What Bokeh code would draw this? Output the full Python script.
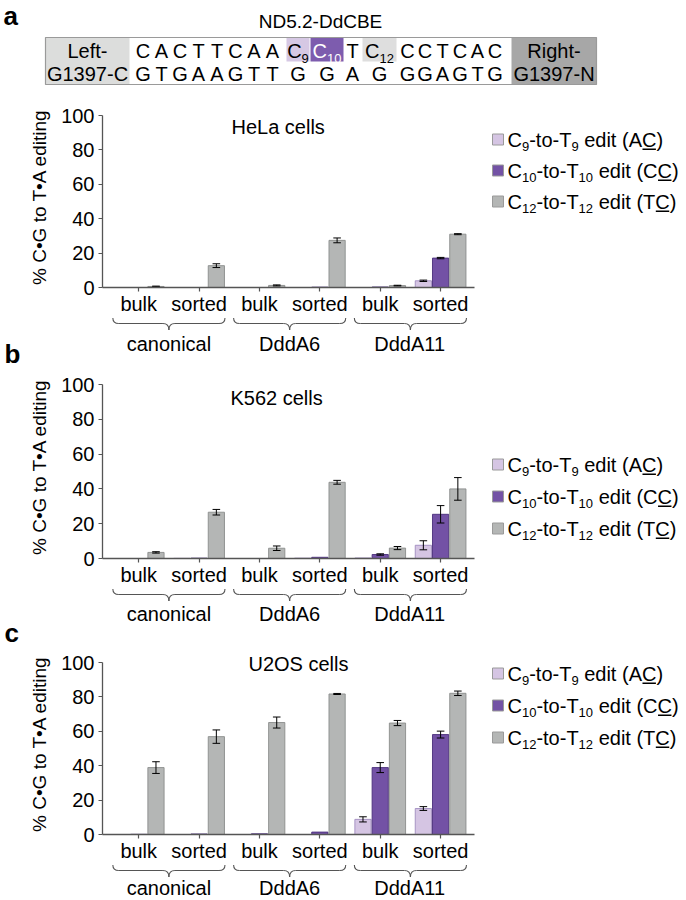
from bokeh.plotting import figure
from bokeh.layouts import column
from bokeh.models import (Range1d, LinearAxis, FixedTicker, ColumnDataSource,
                          CustomJSTickFormatter)
from bokeh.core.properties import value
from bokeh.embed import file_html
from bokeh.resources import INLINE

FONT = "Liberation Sans"

# ---------------- data ----------------
conditions = ["bulk", "sorted", "bulk", "sorted", "bulk", "sorted"]
variants = ["canonical", "DddA6", "DddA11"]
y_ticks = [0, 20, 40, 60, 80, 100]
y_title = "% C\u2022G to T\u2022A editing"

hela_c9 = [0.0, 0.0, 0.0, 0.0, 0.0, 3.9]
hela_c10 = [0.0, 0.0, 0.0, 0.2, 0.3, 17.1]
hela_c12 = [0.6, 12.7, 1.2, 27.4, 1.1, 31.0]
hela_c9_err = [0.0, 0.0, 0.0, 0.0, 0.0, 0.4]
hela_c10_err = [0.0, 0.0, 0.0, 0.0, 0.0, 0.4]
hela_c12_err = [0.2, 1.1, 0.3, 1.4, 0.2, 0.3]

k562_c9 = [0.0, 0.1, 0.0, 0.2, 0.3, 7.6]
k562_c10 = [0.0, 0.2, 0.0, 0.7, 2.3, 25.4]
k562_c12 = [3.5, 26.6, 5.9, 43.8, 6.0, 40.0]
k562_c9_err = [0.0, 0.0, 0.0, 0.0, 0.0, 2.6]
k562_c10_err = [0.0, 0.0, 0.0, 0.0, 0.4, 5.0]
k562_c12_err = [0.4, 1.6, 1.3, 1.1, 0.9, 6.5]

u2os_c9 = [0.0, 0.0, 0.0, 0.0, 8.8, 15.1]
u2os_c10 = [0.1, 0.3, 0.4, 1.4, 38.9, 58.1]
u2os_c12 = [38.9, 56.9, 65.1, 81.7, 64.8, 82.1]
u2os_c9_err = [0.0, 0.0, 0.0, 0.0, 1.5, 1.1]
u2os_c10_err = [0.0, 0.0, 0.0, 0.0, 2.9, 2.0]
u2os_c12_err = [3.4, 3.9, 3.2, 0.3, 1.5, 1.3]

legend_labels = [
    [("C", "n"), ("9", "sub"), ("-to-T", "n"), ("9", "sub"), (" edit (A", "n"), ("C", "u"), (")", "n")],
    [("C", "n"), ("10", "sub"), ("-to-T", "n"), ("10", "sub"), (" edit (C", "n"), ("C", "u"), (")", "n")],
    [("C", "n"), ("12", "sub"), ("-to-T", "n"), ("12", "sub"), (" edit (T", "n"), ("C", "u"), (")", "n")],
]

seq_top = ["C", "A", "C", "T", "T", "C", "A", "A", "C9", "C10", "T", "C12", "C", "C", "T", "C", "A", "C"]
seq_bottom = ["G", "T", "G", "A", "A", "G", "T", "T", "G", "G", "A", "G", "G", "G", "A", "G", "T", "G"]

# ---------------- styling / geometry ----------------
FILLS = ["#d5c5e3", "#7352a5", "#b4b6b5"]
LINES = ["#a08cbf", "#4a2f7a", "#8a8c8b"]
AXIS_COL = "#555555"

UNIT = 8.625            # px per x unit (a bar is 2 units wide)
GSTEP = 7               # group spacing in x units
X0 = -1.2               # x value at the y-axis
FW = 680
LEFT = 102
XEND = X0 + (FW - LEFT) / UNIT
AX_END = 41.92
TOPPAD = 9
BOTTOM_BORDER = 30

AW = {' ': 278, '-': 333, '.': 278, '(': 333, ')': 333, '%': 889,
      'A': 667, 'B': 667, 'C': 722, 'D': 722, 'E': 667, 'G': 778, 'L': 556, 'N': 722,
      'R': 722, 'T': 611, 'a': 556, 'c': 500, 'd': 556, 'e': 556, 'f': 278, 'g': 556,
      'h': 556, 'i': 222, 'l': 222, 'n': 556, 'o': 556, 't': 278, 's': 500, 'u': 556,
      'k': 500, 'r': 333, 'b': 611}


def tw(s, size):
    return sum(AW.get(ch, 556) for ch in s) * size / 1000.0


def rich(p, x, y, pieces, size, xs, yd, align="left", color="black", sub_ratio=0.65, bold=False):
    sub = round(size * sub_ratio, 1)
    widths = [tw(t, sub if k == "sub" else size) for t, k in pieces]
    off = -sum(widths) / 2 if align == "center" else 0.0
    rows = {"n": dict(x=[], y=[], text=[], xo=[], yo=[]), "sub": dict(x=[], y=[], text=[], xo=[], yo=[])}
    for (t, k), w in zip(pieces, widths):
        key = "sub" if k == "sub" else "n"
        fs = sub if k == "sub" else size
        lead = len(t) - len(t.lstrip(" "))
        r = rows[key]
        r["x"].append(x)
        r["y"].append(y)
        r["text"].append(t.strip(" "))
        r["xo"].append(off + tw(" " * lead, fs))
        r["yo"].append(0.35 * size if k == "sub" else 0.0)
        if k == "u":
            uy = y + (0.358 * size + 2.6) * yd
            p.segment(x0=[x + (off + 0.5) / xs], x1=[x + (off + w - 0.5) / xs], y0=[uy], y1=[uy],
                      line_color=color, line_width=1.3)
        off += w
    for key, sz in (("n", size), ("sub", sub)):
        if rows[key]["x"]:
            p.text(x="x", y="y", text="text", x_offset="xo", y_offset="yo",
                   source=ColumnDataSource(rows[key]), text_font=value(FONT),
                   text_font_size=f"{sz}px", text_baseline="middle", text_align="left",
                   text_color=color, text_font_style="bold" if bold else "normal")


def base_fig(height, xr, yr, **kw):
    p = figure(width=FW, height=height, x_range=xr, y_range=yr, x_axis_type=None, y_axis_type=None,
               toolbar_location=None, output_backend="svg", min_border=0, outline_line_color=None,
               frame_align=False, **kw)
    return p


# ---------------- header (sequence) ----------------
hp = base_fig(102, Range1d(0, FW), Range1d(102, 0))
rich(hp, 3, 15, [("a", "n")], 26, 1, 1, bold=True)
rich(hp, 320, 21, [("ND5.2-DdCBE", "n")], 19, 1, 1, align="center")
hp.quad(left=[45], right=[596], top=[37], bottom=[84], fill_color="white", line_color=None)
hp.quad(left=[45, 511], right=[129, 596], top=[37, 37], bottom=[84, 84],
        fill_color=["#dcdddc", "#a7a7a7"], line_color=None)
hp.quad(left=[286, 310, 362], right=[309, 343, 396], top=[37, 37, 37], bottom=[61, 61, 61],
        fill_color=["#d6c8e4", "#7d5cae", "#dedede"], line_color=None)
hp.quad(left=[45], right=[596], top=[37], bottom=[84], fill_color=None, line_color="#9a9a9a", line_width=1.2)
ROW1, ROW2 = 50.5, 73
for lbl, xx in (("Left-", 87), ("Right-", 553.5)):
    rich(hp, xx, ROW1, [(lbl, "n")], 20, 1, 1, align="center")
for lbl, xx in (("G1397-C", 87), ("G1397-N", 553.5)):
    rich(hp, xx, ROW2, [(lbl, "n")], 20, 1, 1, align="center")
seq_x = [142.5, 161, 179.5, 198, 216.5, 235, 253.5, 272, 297.5, 326.5, 352, 379,
         407, 424.5, 442, 459.5, 477, 494.5]
for t, xx in zip(seq_top, seq_x):
    if len(t) > 1:
        col = "white" if t == "C10" else "black"
        rich(hp, xx, ROW1, [(t[0], "n"), (t[1:], "sub")], 20, 1, 1, align="center", color=col)
    else:
        rich(hp, xx, ROW1, [(t, "n")], 20, 1, 1, align="center")
for t, xx in zip(seq_bottom, seq_x):
    rich(hp, xx, ROW2, [(t, "n")], 20, 1, 1, align="center")


# ---------------- chart panels ----------------
def make_chart(vals, errs, top_page, y0p, y100p):
    scale = (y0p - y100p) / 100.0
    height = (y0p + BOTTOM_BORDER) - top_page
    mbt = (y100p - TOPPAD) - top_page
    p = base_fig(height, Range1d(X0, XEND), Range1d(0, 100 + TOPPAD / scale),
                 min_border_left=LEFT, min_border_top=mbt, min_border_bottom=BOTTOM_BORDER)
    yax = LinearAxis(bounds=(0, 100), ticker=FixedTicker(ticks=y_ticks), axis_label=y_title,
                     axis_line_color=AXIS_COL, axis_line_width=1.3,
                     major_tick_line_color=AXIS_COL, major_tick_line_width=1.2,
                     major_tick_out=4, major_tick_in=0, minor_tick_out=0, minor_tick_in=0,
                     major_label_standoff=4, major_label_text_font=FONT,
                     major_label_text_font_size="20px", major_label_text_color="black",
                     axis_label_text_font=FONT, axis_label_text_font_size="19px",
                     axis_label_text_font_style="normal", axis_label_text_color="black",
                     axis_label_standoff=8)
    p.add_layout(yax, "left")
    centers = [GSTEP * i + 3 for i in range(len(conditions))]
    xax = LinearAxis(bounds=(X0, AX_END), ticker=FixedTicker(ticks=centers),
                     formatter=CustomJSTickFormatter(args=dict(names=conditions),
                                                     code="return names[Math.round((tick - 3) / 7)];"),
                     axis_line_color=AXIS_COL, axis_line_width=1.3,
                     major_tick_line_color=AXIS_COL, major_tick_line_width=1.2,
                     major_tick_out=4, major_tick_in=0, minor_tick_out=0, minor_tick_in=0,
                     major_label_standoff=1, major_label_text_font=FONT,
                     major_label_text_font_size="20px", major_label_text_color="black")
    p.add_layout(xax, "below")
    gx = [GSTEP * i for i in range(len(conditions))]
    for s in range(3):
        xs = [g + 2 * s + 1 for g in gx]
        p.vbar(x=xs, top=vals[s], bottom=0, width=1.88, fill_color=FILLS[s],
               line_color=LINES[s], line_width=0.9)
        ex = [x for x, e in zip(xs, errs[s]) if e > 0]
        lo = [v - e for v, e in zip(vals[s], errs[s]) if e > 0]
        hi = [v + e for v, e in zip(vals[s], errs[s]) if e > 0]
        if ex:
            p.segment(x0=ex, x1=ex, y0=lo, y1=hi, line_color="black", line_width=1)
            cw = 0.44
            p.segment(x0=[x - cw for x in ex] * 2, x1=[x + cw for x in ex] * 2, y0=lo + hi, y1=lo + hi,
                      line_color="black", line_width=1)
    return p, scale


def add_title_and_legend(p, scale, y0p, title, tpos, legend_rows):
    tx, ty = tpos
    rich(p, X0 + (tx - LEFT) / UNIT, (y0p - ty) / scale, [(title, "n")], 20, UNIT, -1 / scale, align="center")
    sqx = X0 + (497.5 - LEFT) / UNIT
    txx = X0 + (507 - LEFT) / UNIT
    for i, ry in enumerate(legend_rows):
        yy = (y0p - ry) / scale
        p.scatter(x=[sqx], y=[yy], marker="square", size=11, fill_color=FILLS[i], line_color="#9a9a9a",
                  line_width=1)
        rich(p, txx, yy, legend_labels[i], 20, UNIT, -1 / scale)


def make_strip(bottom_page, y0p, br, grp_y, letter=None, letter_y=None):
    top_off = BOTTOM_BORDER
    p = base_fig(bottom_page - (y0p + top_off), Range1d(X0 - LEFT / UNIT, XEND),
                 Range1d(bottom_page - y0p, top_off))
    yt, ym, yb = br
    r = 6.0 / UNIT
    for k in range(len(variants)):
        xl = (2 * k) * GSTEP
        xr = (2 * k + 1) * GSTEP + 6
        xc = (xl + xr) / 2
        p.quadratic(x0=[xl, xc - r, xc, xr - r], y0=[yt, ym, yb, ym],
                    x1=[xl + r, xc, xc + r, xr], y1=[ym, yb, ym, yt],
                    cx=[xl, xc, xc, xr], cy=[ym, ym, ym, ym], line_color=AXIS_COL, line_width=1.1)
        p.segment(x0=[xl + r, xc + r], x1=[xc - r, xr - r], y0=[ym, ym], y1=[ym, ym],
                  line_color=AXIS_COL, line_width=1.1)
        rich(p, xc, grp_y, [(variants[k], "n")], 20, UNIT, 1, align="center")
    if letter:
        rich(p, X0 - (LEFT - 4) / UNIT, letter_y, [(letter, "n")], 26, UNIT, 1, bold=True)
    return p


BRACE = (30.5, 36, 42.5)

pa, sa = make_chart([hela_c9, hela_c10, hela_c12], [hela_c9_err, hela_c10_err, hela_c12_err], 102, 287, 115)
add_title_and_legend(pa, sa, 287, "HeLa cells", (276, 126), [139, 170, 201])
stra = make_strip(369, 287, BRACE, 56, "b", 66)

pb, sb = make_chart([k562_c9, k562_c10, k562_c12], [k562_c9_err, k562_c10_err, k562_c12_err], 369, 558, 384)
add_title_and_legend(pb, sb, 558, "K562 cells", (275, 397), [464, 496, 528])
strb = make_strip(648, 558, BRACE, 55, "c", 74)

pc, sc = make_chart([u2os_c9, u2os_c10, u2os_c12], [u2os_c9_err, u2os_c10_err, u2os_c12_err], 648, 834, 662)
add_title_and_legend(pc, sc, 834, "U2OS cells", (293, 663), [673, 705, 737])
strc = make_strip(899, 834, BRACE, 53.5)

layout = column(hp, pa, stra, pb, strb, pc, strc, spacing=0)
open("out.html", "w").write(file_html(layout, INLINE, title="ND5.2-DdCBE editing"))
